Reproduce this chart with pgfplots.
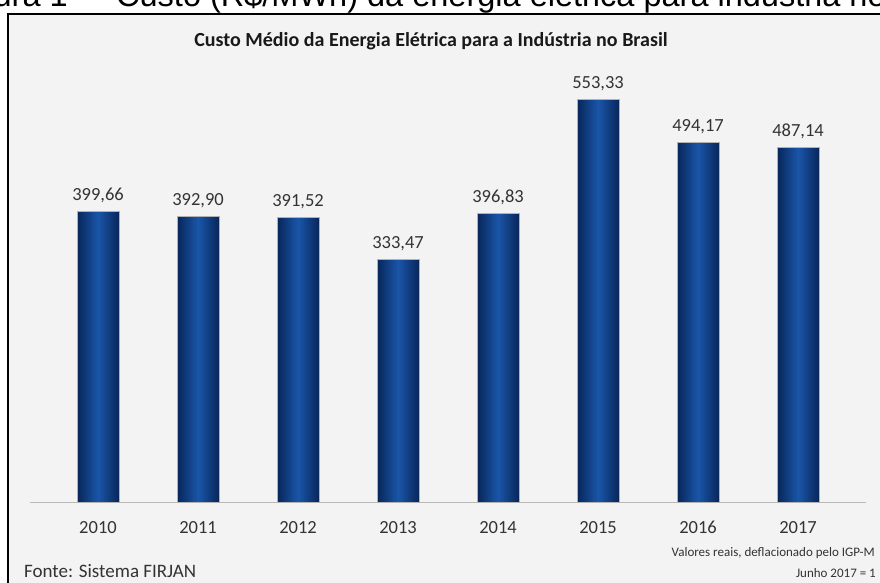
\documentclass[border=0pt]{standalone}
\usepackage{pgfplots}
\pgfplotsset{compat=1.18}
\usepackage{fontspec}
\setmainfont{Carlito}
\newfontfamily\arialfont{Liberation Sans}
\definecolor{bgc}{HTML}{F3F3F3}
\definecolor{bardark}{HTML}{08265A}
\definecolor{barlight}{HTML}{1A56A8}
\definecolor{txt}{HTML}{333333}
\begin{document}
\begin{tikzpicture}[x=1pt,y=1pt]
\useasboundingbox (0,0) rectangle (880,583);
\begin{scope}
\clip (0,0) rectangle (880,583);
\fill[white] (0,0) rectangle (880,583);
\node[anchor=base west, inner sep=0pt, font=\arialfont\fontsize{32.5}{36}\selectfont] at (116,576) {Custo (R\$/MWh) da energia elétrica para indústria no Brasil};
\node[anchor=base east, inner sep=0pt, font=\arialfont\fontsize{32.5}{36}\selectfont] at (95,576) {Figura 1 –};
\filldraw[fill=bgc, draw=black, line width=2pt] (8,-20) rectangle (900,569);
\end{scope}
\node[anchor=base, inner sep=0pt, font=\fontsize{20}{24}\selectfont\bfseries, text=black!90] at (431,536) {Custo Médio da Energia Elétrica para a Indústria no Brasil};
\node[anchor=base west, inner sep=0pt, font=\fontsize{19}{22}\selectfont, text=txt] at (24,5) {Fonte: Sistema FIRJAN};
\node[anchor=base east, inner sep=0pt, font=\fontsize{13}{15}\selectfont, text=txt] at (875,26) {Valores reais, deflacionado pelo IGP-M};
\node[anchor=base east, inner sep=0pt, font=\fontsize{13}{15}\selectfont, text=txt] at (876,5) {Junho 2017 = 1};
\begin{axis}[
  at={(98,110.4)}, anchor=origin, scale only axis,
  width=836pt, height=437.4pt,
  xmin=-0.68, xmax=7.68, ymin=0, ymax=600,
  axis y line=none, axis x line*=bottom,
  x axis line style={draw=gray!55, line width=1.2pt, -},
  xtick={0,1,2,3,4,5,6,7}, xticklabels={2010,2011,2012,2013,2014,2015,2016,2017},
  major tick length=0pt,
  xticklabel style={anchor=base, yshift=-31pt, font=\fontsize{18.5}{22}\selectfont, text=txt},
  ybar, bar width=42pt, bar shift=0pt,
  clip=false,
  nodes near coords={\pgfmathprintnumber[fixed, fixed zerofill, precision=2, use comma, assume math mode=true]{\pgfplotspointmeta}},
  nodes near coords style={anchor=base, yshift=10.5pt, font=\fontsize{18.5}{22}\selectfont, text=txt},
  mybar/.style={draw=gray!60, line width=0.5pt, left color=bardark, right color=bardark, middle color=barlight},
]
\addplot[mybar] coordinates {(0,399.66)};
\addplot[mybar] coordinates {(1,392.90)};
\addplot[mybar] coordinates {(2,391.52)};
\addplot[mybar] coordinates {(3,333.47)};
\addplot[mybar] coordinates {(4,396.83)};
\addplot[mybar] coordinates {(5,553.33)};
\addplot[mybar] coordinates {(6,494.17)};
\addplot[mybar] coordinates {(7,487.14)};
\end{axis}
\end{tikzpicture}
\end{document}
